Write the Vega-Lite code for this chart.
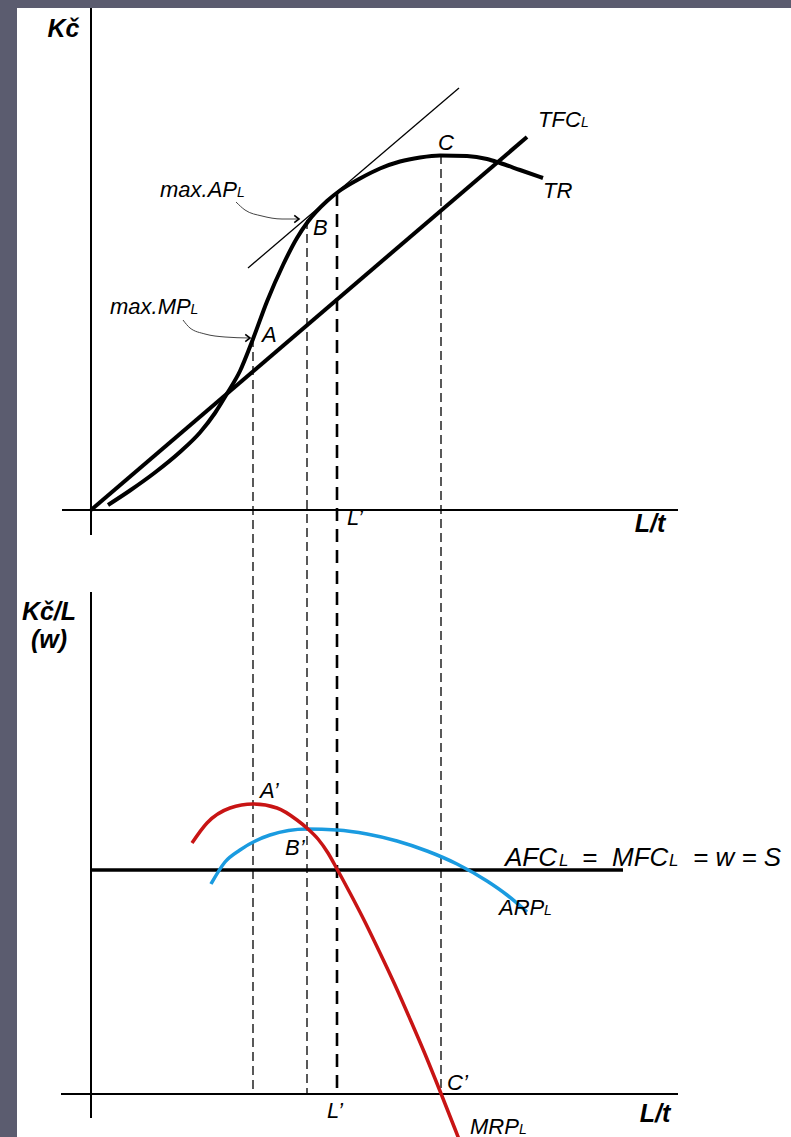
{
  "$schema": "https://vega.github.io/schema/vega-lite/v6.json",
  "width": 791,
  "height": 1137,
  "autosize": {"type": "fit", "contains": "padding"},
  "padding": {"left": 17, "top": 8, "right": 0, "bottom": 0},
  "background": "#5b5c6f",
  "config": {"view": {"fill": "white", "stroke": null}, "font": "Liberation Sans"},
  "datasets": {
    "tr": [
      {"x": 3.4, "y": 1.0}, {"x": 7.8, "y": 3.9}, {"x": 12.8, "y": 7.5}, {"x": 17.8, "y": 11.6},
      {"x": 21.8, "y": 15.5}, {"x": 24.8, "y": 19.4}, {"x": 27.4, "y": 23.6}, {"x": 29.8, "y": 27.8},
      {"x": 32.4, "y": 34.2}, {"x": 35.2, "y": 41.7}, {"x": 38.4, "y": 49.0}, {"x": 41.2, "y": 54.4},
      {"x": 43.4, "y": 57.7}, {"x": 47.2, "y": 61.8}, {"x": 49.8, "y": 63.9}, {"x": 53.8, "y": 66.3},
      {"x": 57.8, "y": 68.3}, {"x": 61.8, "y": 69.7}, {"x": 65.8, "y": 70.5}, {"x": 69.8, "y": 70.9},
      {"x": 75.2, "y": 70.8}, {"x": 79.2, "y": 70.2}, {"x": 81.8, "y": 69.4}, {"x": 85.8, "y": 68.0},
      {"x": 90.4, "y": 66.4}
    ],
    "tfc": [{"x": 0, "y": 0}, {"x": 87.2, "y": 74.6}],
    "tan": [{"x": 31.4, "y": 48.4}, {"x": 73.6, "y": 84.4}],
    "axesTop": [{"x": 0, "y": 100.4, "x2": 0, "y2": -5}, {"x": -5.8, "y": 0, "x2": 117.4, "y2": 0}],
    "dropThin": [{"x": 32.4, "y": 34.4, "y2": -116.8}, {"x": 43.2, "y": 58, "y2": -116.8}, {"x": 70, "y": 71, "y2": -116.8}],
    "dropThick": [{"x": 49.2, "y": 63.4, "y2": -116.8}],
    "arrows": [
      {"g": "AP", "x": 29, "y": 61.6}, {"g": "AP", "x": 30.8, "y": 60}, {"g": "AP", "x": 34.2, "y": 58.8},
      {"g": "AP", "x": 38.2, "y": 58.2}, {"g": "AP", "x": 41.4, "y": 58.2},
      {"g": "MP", "x": 18.4, "y": 38}, {"g": "MP", "x": 19.8, "y": 36.4}, {"g": "MP", "x": 22.8, "y": 35.2},
      {"g": "MP", "x": 26.8, "y": 34.6}, {"g": "MP", "x": 31.6, "y": 34.4}
    ],
    "heads": [{"x": 41.6, "y": 58.2}, {"x": 31.8, "y": 34.4}],
    "boldTop": [{"x": -5.5, "y": 94.6, "t": "Kč"}, {"x": 111.8, "y": -4.4, "t": "L/t"}],
    "labTop": [
      {"x": 13.8, "y": 62.6, "t": "max.AP"}, {"x": 3.8, "y": 39.2, "t": "max.MP"},
      {"x": 34.2, "y": 33.6, "t": "A"}, {"x": 44.4, "y": 55, "t": "B"}, {"x": 69.4, "y": 72, "t": "C"},
      {"x": 89.4, "y": 76.6, "t": "TFC"}, {"x": 90.4, "y": 62.4, "t": "TR"}, {"x": 51.2, "y": -3, "t": "L’"}
    ],
    "subTop": [{"x": 29.2, "y": 62.6, "t": "L"}, {"x": 19.9, "y": 39.2, "t": "L"}, {"x": 98, "y": 76.6, "t": "L"}],
    "axesBot": [{"x": 0, "y": 100.4, "x2": 0, "y2": -4.8}, {"x": -6, "y": 0, "x2": 117.4, "y2": 0}],
    "wline": [{"x": 0, "y": 44.8}, {"x": 106.4, "y": 44.8}],
    "mrp": [
      {"x": 20.2, "y": 50.2}, {"x": 23.2, "y": 54.2}, {"x": 27.8, "y": 57.2}, {"x": 32.4, "y": 58.0},
      {"x": 37.2, "y": 57.2}, {"x": 41.2, "y": 54.8}, {"x": 43.4, "y": 53.0}, {"x": 45.4, "y": 51.0},
      {"x": 47.4, "y": 48.2}, {"x": 49.2, "y": 45.0}, {"x": 51.8, "y": 40.2}, {"x": 54.8, "y": 34.4},
      {"x": 57.8, "y": 28.2}, {"x": 60.8, "y": 21.8}, {"x": 63.8, "y": 15.0}, {"x": 66.8, "y": 8.0},
      {"x": 69.8, "y": 0.6}, {"x": 72.8, "y": -7.0}, {"x": 74.2, "y": -10.6}
    ],
    "arp": [
      {"x": 24, "y": 42}, {"x": 26.8, "y": 46.4}, {"x": 29.8, "y": 48.8}, {"x": 35.8, "y": 51.8},
      {"x": 43.2, "y": 53.0}, {"x": 49.2, "y": 52.8}, {"x": 55.2, "y": 52.0}, {"x": 61.2, "y": 50.6},
      {"x": 67.2, "y": 48.6}, {"x": 73.2, "y": 46.0}, {"x": 79.2, "y": 42.6}, {"x": 83.2, "y": 39.8},
      {"x": 87.2, "y": 36.4}
    ],
    "boldBot": [{"x": -8.4, "y": 94.8, "t": "Kč/L"}, {"x": -8.4, "y": 89.2, "t": "(w)"}, {"x": 112.8, "y": -5.6, "t": "L/t"}],
    "labBot": [
      {"x": 33.8, "y": 59.2, "t": "A’"}, {"x": 38.8, "y": 47.8, "t": "B’"}, {"x": 81.6, "y": 35.8, "t": "ARP"},
      {"x": 71.2, "y": 0.8, "t": "C’"}, {"x": 47.2, "y": -4.8, "t": "L’"}, {"x": 75.8, "y": -7.9, "t": "MRP"}
    ],
    "subBot": [{"x": 90.6, "y": 35.8, "t": "L"}, {"x": 85.6, "y": -7.9, "t": "L"}],
    "eq": [
      {"x": 82.8, "y": 45.6, "t": "AFC"}, {"x": 98.2, "y": 45.6, "t": "="},
      {"x": 104.2, "y": 45.6, "t": "MFC"}, {"x": 120.4, "y": 45.6, "t": "= w = S"}
    ],
    "eqSub": [{"x": 93.6, "y": 45.6, "t": "L"}, {"x": 115.6, "y": 45.6, "t": "L"}]
  },
  "encoding": {
    "x": {"field": "x", "type": "quantitative", "scale": {"domain": [-14.8, 140], "nice": false, "zero": false}, "axis": null}
  },
  "resolve": {"scale": {"y": "independent"}},
  "layer": [
    {
      "encoding": {
        "y": {"field": "y", "type": "quantitative", "scale": {"domain": [-125.4, 100.4], "nice": false, "zero": false}, "axis": null}
      },
      "layer": [
        {"data": {"name": "axesTop"}, "mark": {"type": "rule", "color": "black", "strokeWidth": 2, "clip": true},
         "encoding": {"x2": {"field": "x2"}, "y2": {"field": "y2"}}},
        {"data": {"name": "dropThin"}, "mark": {"type": "rule", "color": "black", "strokeWidth": 1.3, "strokeDash": [9, 5], "clip": true},
         "encoding": {"y2": {"field": "y2"}}},
        {"data": {"name": "dropThick"}, "mark": {"type": "rule", "color": "black", "strokeWidth": 2.6, "strokeDash": [13, 8], "clip": true},
         "encoding": {"y2": {"field": "y2"}}},
        {"data": {"name": "tfc"}, "mark": {"type": "line", "color": "black", "strokeWidth": 4, "clip": true}, "encoding": {}},
        {"data": {"name": "tr"}, "mark": {"type": "line", "color": "black", "strokeWidth": 4, "interpolate": "monotone", "clip": true}, "encoding": {}},
        {"data": {"name": "tan"}, "mark": {"type": "line", "color": "black", "strokeWidth": 1.3, "clip": true}, "encoding": {}},
        {"data": {"name": "arrows"}, "mark": {"type": "line", "color": "#444444", "strokeWidth": 1, "interpolate": "monotone", "clip": true},
         "encoding": {"detail": {"field": "g"}}},
        {"data": {"name": "heads"}, "mark": {"type": "point", "shape": "M-1,-0.75L0,0L-1,0.75", "filled": false, "stroke": "black", "strokeWidth": 1.6, "size": 90, "opacity": 1, "clip": true}, "encoding": {}},
        {"data": {"name": "boldTop"}, "mark": {"type": "text", "fontSize": 25, "fontWeight": "bold", "fontStyle": "italic", "align": "center", "baseline": "alphabetic", "color": "black", "clip": true},
         "encoding": {"text": {"field": "t"}}},
        {"data": {"name": "labTop"}, "mark": {"type": "text", "fontSize": 22, "fontStyle": "italic", "align": "left", "baseline": "alphabetic", "color": "black", "clip": true},
         "encoding": {"text": {"field": "t"}}},
        {"data": {"name": "subTop"}, "mark": {"type": "text", "fontSize": 14, "fontStyle": "italic", "align": "left", "baseline": "alphabetic", "color": "black", "clip": true},
         "encoding": {"text": {"field": "t"}}}
      ]
    },
    {
      "encoding": {
        "y": {"field": "y", "type": "quantitative", "scale": {"domain": [-8.6, 217.2], "nice": false, "zero": false}, "axis": null}
      },
      "layer": [
        {"data": {"name": "axesBot"}, "mark": {"type": "rule", "color": "black", "strokeWidth": 2, "clip": true},
         "encoding": {"x2": {"field": "x2"}, "y2": {"field": "y2"}}},
        {"data": {"name": "wline"}, "mark": {"type": "line", "color": "black", "strokeWidth": 3.5, "clip": true}, "encoding": {}},
        {"data": {"name": "arp"}, "mark": {"type": "line", "color": "#1a9be0", "strokeWidth": 3.5, "interpolate": "monotone", "clip": true}, "encoding": {}},
        {"data": {"name": "mrp"}, "mark": {"type": "line", "color": "#c81414", "strokeWidth": 3.5, "interpolate": "monotone", "clip": true}, "encoding": {}},
        {"data": {"name": "boldBot"}, "mark": {"type": "text", "fontSize": 25, "fontWeight": "bold", "fontStyle": "italic", "align": "center", "baseline": "alphabetic", "color": "black", "clip": true},
         "encoding": {"text": {"field": "t"}}},
        {"data": {"name": "labBot"}, "mark": {"type": "text", "fontSize": 22, "fontStyle": "italic", "align": "left", "baseline": "alphabetic", "color": "black", "clip": true},
         "encoding": {"text": {"field": "t"}}},
        {"data": {"name": "subBot"}, "mark": {"type": "text", "fontSize": 14, "fontStyle": "italic", "align": "left", "baseline": "alphabetic", "color": "black", "clip": true},
         "encoding": {"text": {"field": "t"}}},
        {"data": {"name": "eq"}, "mark": {"type": "text", "fontSize": 26, "fontStyle": "italic", "align": "left", "baseline": "alphabetic", "color": "black", "clip": true},
         "encoding": {"text": {"field": "t"}}},
        {"data": {"name": "eqSub"}, "mark": {"type": "text", "fontSize": 17, "fontStyle": "italic", "align": "left", "baseline": "alphabetic", "color": "black", "clip": true},
         "encoding": {"text": {"field": "t"}}}
      ]
    }
  ]
}
